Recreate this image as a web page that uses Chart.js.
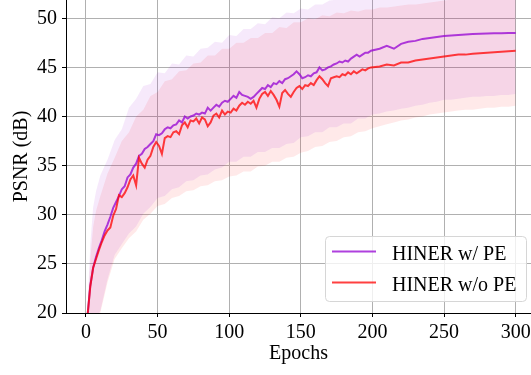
<!DOCTYPE html>
<html>
<head>
<meta charset="utf-8">
<script src="https://cdn.jsdelivr.net/npm/chart.js@4/dist/chart.umd.min.js"></script>
<style>
  html, body { margin: 0; padding: 0; background: #fff; }
  #psnrChart { display: block; }
</style>
</head>
<body>
<canvas id="psnrChart" width="531" height="375"></canvas>
<script>
// epochs for the two mean curves
const lineEpochs = [1, 3, 5, 7, 9, 11, 13, 15, 17, 19, 21, 23, 25, 27, 29, 31, 33, 35, 37, 39,
    41, 43, 45, 47, 49, 51, 53, 55, 57, 59, 61, 63, 65, 67, 69, 71, 73, 75, 77, 79,
    81, 83, 85, 87, 89, 91, 93, 95, 97, 99, 101, 103, 105, 107, 109, 111, 113, 115, 117, 119,
    121, 123, 125, 127, 129, 131, 133, 135, 137, 139, 141, 143, 145, 147, 149, 151, 153, 155, 157, 159,
    161, 163, 165, 167, 169, 171, 173, 175, 177, 179, 181, 183, 185, 187, 189, 191, 193, 195, 197, 199,
    205, 210, 215, 220, 225, 230, 235, 240, 245, 250, 255, 260, 265, 270, 275, 280, 285, 290, 295, 300];

const withPE = [19.6, 22.8, 24.6, 25.7, 26.6, 27.4, 28.3, 29.0, 29.8, 30.7, 31.3, 31.9, 32.6, 32.9, 33.8, 34.1, 34.8, 35.2, 36.0, 36.2,
    36.7, 36.9, 37.2, 37.5, 38.2, 38.1, 38.3, 38.7, 38.9, 38.8, 39.1, 39.2, 39.6, 39.4, 40.0, 39.8, 40.0, 40.1, 40.3, 40.2,
    40.4, 40.3, 40.9, 40.6, 40.9, 41.2, 41.0, 41.4, 41.6, 41.5, 41.8, 42.1, 41.9, 42.5, 42.2, 42.1, 42.0, 41.8, 42.0, 42.3,
    42.6, 42.9, 42.8, 43.2, 43.0, 43.4, 43.3, 43.6, 43.4, 43.8, 43.9, 44.1, 44.3, 44.6, 44.3, 43.9, 44.0, 44.2, 44.1, 44.4,
    44.5, 45.0, 44.7, 44.8, 45.0, 45.1, 45.3, 45.4, 45.6, 45.5, 45.7, 45.6, 45.9, 46.1, 46.3, 46.1, 46.3, 46.5, 46.5, 46.7,
    46.9, 47.2, 46.9, 47.4, 47.6, 47.7, 47.9, 48.0, 48.1, 48.2, 48.25, 48.3, 48.35, 48.4, 48.42, 48.45, 48.47, 48.48, 48.5, 48.5];

const withoutPE = [19.6, 22.7, 24.6, 25.5, 26.4, 27.2, 27.9, 28.4, 28.7, 29.9, 30.6, 32.0, 31.8, 32.2, 32.8, 33.6, 34.0, 33.0, 35.8, 35.2,
    34.8, 35.6, 36.0, 36.9, 37.4, 37.0, 36.2, 37.8, 38.0, 37.9, 38.4, 38.5, 38.2, 39.1, 39.4, 38.9, 39.6, 39.5, 39.8, 39.3,
    39.9, 39.7, 39.0, 39.4, 40.1, 40.3, 39.9, 40.6, 40.2, 40.5, 40.4, 40.8, 40.6, 41.1, 41.4, 41.2, 41.5, 41.3, 41.6, 40.9,
    41.8, 42.3, 42.5, 42.1, 42.6, 42.2, 41.7, 41.0, 42.4, 42.7, 42.3, 42.0, 42.5, 42.9, 43.1, 42.8, 43.2, 43.1, 43.4, 43.2,
    43.7, 44.1, 43.8, 43.4, 43.1, 43.9, 44.0, 44.1, 44.0, 44.3, 44.2, 44.5, 44.3, 44.6, 44.4, 44.6, 44.8, 44.7, 44.9, 45.0,
    45.1, 45.3, 45.2, 45.5, 45.5, 45.7, 45.8, 45.9, 46.0, 46.1, 46.2, 46.3, 46.3, 46.4, 46.45, 46.5, 46.55, 46.6, 46.65, 46.7];

// epochs for the shaded min/max bands
const bandEpochs = [1, 3, 5, 7, 10, 15, 20, 25, 30, 35, 40, 45, 50, 55, 60, 65, 70, 75, 80, 85,
    90, 95, 100, 105, 110, 115, 120, 125, 130, 135, 140, 145, 150, 155, 160, 165, 170, 175, 180, 185,
    190, 195, 200, 205, 210, 215, 220, 225, 230, 235, 240, 245, 250, 255, 260, 265, 270, 275, 280, 285,
    290, 295, 300];

const withPEUpper = [20.5, 27.0, 30.8, 32.4, 34.0, 35.6, 37.6, 38.7, 40.9, 41.8, 43.1, 43.3, 44.5, 44.4, 45.4, 45.3, 46.2, 46.1, 46.9, 47.0,
    47.6, 47.5, 48.3, 48.2, 48.9, 48.9, 49.5, 49.4, 50.1, 50.0, 50.6, 50.5, 51.0, 50.9, 51.4, 51.4, 51.8, 51.9, 52.1, 52.2,
    52.3, 52.4, 52.5, 52.6, 52.7, 52.8, 52.8, 52.9, 53.0, 53.0, 53.1, 53.2, 53.2, 53.3, 53.3, 53.4, 53.4, 53.5, 53.5, 53.6,
    53.6, 53.7, 53.7];
const withPELower = [19.0, 19.0, 19.2, 19.5, 20.2, 23.4, 25.9, 27.0, 28.1, 28.8, 30.1, 30.8, 31.7, 31.9, 32.6, 32.8, 33.4, 33.5, 34.0, 34.1,
    34.6, 34.8, 35.4, 35.4, 35.9, 35.9, 36.4, 36.4, 36.8, 36.8, 37.2, 37.3, 37.9, 38.0, 38.4, 38.4, 38.9, 38.9, 39.3, 39.3,
    39.8, 39.8, 40.2, 40.3, 40.5, 40.6, 40.8, 40.9, 41.1, 41.2, 41.4, 41.5, 41.7, 41.7, 41.8, 41.9, 42.0, 42.0, 42.1, 42.1,
    42.2, 42.2, 42.3];
const withoutPEUpper = [20.3, 25.5, 28.8, 30.4, 31.9, 34.2, 35.8, 37.5, 38.4, 40.0, 40.7, 42.1, 42.5, 43.6, 43.8, 44.6, 44.7, 45.4, 45.5, 46.2,
    46.2, 46.9, 46.9, 47.5, 47.5, 48.0, 48.0, 48.5, 48.5, 49.1, 49.0, 49.6, 49.6, 50.0, 49.9, 50.3, 50.2, 50.6, 50.5, 50.8,
    50.7, 50.9, 50.9, 51.1, 51.1, 51.2, 51.3, 51.4, 51.4, 51.5, 51.6, 51.7, 51.8, 51.9, 52.0, 52.0, 52.1, 52.2, 52.2, 52.3,
    52.3, 52.4, 52.4];
const withoutPELower = [19.0, 19.0, 19.1, 19.4, 20.0, 23.1, 25.5, 26.6, 27.6, 28.3, 29.5, 30.1, 30.9, 31.1, 31.7, 31.9, 32.4, 32.5, 32.9, 33.0,
    33.4, 33.5, 33.9, 34.0, 34.4, 34.4, 34.9, 35.0, 35.4, 35.4, 35.8, 35.9, 36.3, 36.5, 36.9, 37.0, 37.4, 37.5, 37.9, 38.0,
    38.4, 38.5, 38.8, 39.0, 39.2, 39.4, 39.6, 39.7, 39.9, 40.0, 40.2, 40.3, 40.4, 40.5, 40.6, 40.7, 40.7, 40.8, 40.9, 40.9,
    41.0, 41.0, 41.1];

const xTicks = [0, 50, 100, 150, 200, 250, 300];
const yTicks = [20, 25, 30, 35, 40, 45, 50];
const seriesLabels = ['HINER w/ PE', 'HINER w/o PE'];

const purple = 'rgba(148, 0, 211, 0.75)';
const red = 'rgba(255, 0, 0, 0.75)';
const serif = '"Liberation Serif", "Times New Roman", serif';

function toPoints(xs, ys) {
    return xs.map((x, i) => ({ x: x, y: ys[i] }));
}

function bandSet(ys, color, fill) {
    return {
        data: toPoints(bandEpochs, ys),
        borderWidth: 0,
        pointRadius: 0,
        backgroundColor: color,
        fill: fill
    };
}

// matplotlib-like legend box in the lower right
const boxLegend = {
    id: 'boxLegend',
    afterDraw(chart) {
        const ctx = chart.ctx;
        const x = 325.5, y = 236.5, w = 201, h = 65;
        ctx.save();
        ctx.beginPath();
        ctx.roundRect(x, y, w, h, 4);
        ctx.fillStyle = 'rgba(255, 255, 255, 0.8)';
        ctx.fill();
        ctx.strokeStyle = '#d6d6d6';
        ctx.lineWidth = 1;
        ctx.stroke();

        ctx.font = '20px ' + serif;
        ctx.textBaseline = 'alphabetic';
        ctx.fillStyle = '#000';
        [0, 1].forEach(i => {
            const ds = chart.data.datasets[1 - i];
            const ly = 251.5 + i * 31;
            ctx.beginPath();
            ctx.moveTo(332, ly);
            ctx.lineTo(376, ly);
            ctx.strokeStyle = ds.borderColor;
            ctx.lineWidth = 2;
            ctx.stroke();
            ctx.fillText(ds.label, 392, 259.5 + i * 31);
        });
        ctx.restore();
    }
};

const config = {
    type: 'line',
    data: {
        datasets: [
            { label: seriesLabels[1], data: toPoints(lineEpochs, withoutPE), borderColor: red, borderWidth: 2, pointRadius: 0, fill: false },
            { label: seriesLabels[0], data: toPoints(lineEpochs, withPE), borderColor: purple, borderWidth: 2, pointRadius: 0, fill: false },
            bandSet(withPEUpper, 'rgba(148, 0, 211, 0.085)', '+1'),
            bandSet(withPELower, 'rgba(148, 0, 211, 0.085)', false),
            bandSet(withoutPEUpper, 'rgba(255, 0, 0, 0.085)', '+1'),
            bandSet(withoutPELower, 'rgba(255, 0, 0, 0.085)', false)
        ]
    },
    options: {
        responsive: false,
        animation: false,
        devicePixelRatio: 1,
        layout: { padding: 0 },
        elements: { line: { tension: 0 } },
        plugins: {
            legend: { display: false },
            tooltip: { enabled: false }
        },
        scales: {
            x: {
                type: 'linear',
                min: -13.96,
                max: 310.7,
                afterBuildTicks: s => { s.ticks = xTicks.map(v => ({ value: v })); },
                afterFit: s => { s.height = 62; s.paddingLeft = 0; s.paddingRight = 0; },
                grid: { color: '#b0b0b0', lineWidth: 1, tickColor: '#000', tickLength: 4 },
                border: { display: true, color: '#000', width: 1 },
                ticks: { color: '#000', font: { family: serif, size: 20 }, padding: 4, maxRotation: 0, autoSkip: false },
                title: { display: true, text: 'Epochs', color: '#000', font: { family: serif, size: 20 }, padding: { top: 0, bottom: 9 } }
            },
            y: {
                min: 20,
                max: 51.86,
                afterBuildTicks: s => { s.ticks = yTicks.map(v => ({ value: v })); },
                afterFit: s => { s.width = 66; s.paddingTop = 0; s.paddingBottom = 0; },
                grid: { color: '#b0b0b0', lineWidth: 1, tickColor: '#000', tickLength: 4 },
                border: { display: true, color: '#000', width: 1 },
                ticks: { color: '#000', font: { family: serif, size: 20 }, padding: 5 },
                title: { display: true, text: 'PSNR (dB)', color: '#000', font: { family: serif, size: 20 }, padding: { top: 10, bottom: 0 } }
            }
        }
    },
    plugins: [boxLegend]
};

new Chart(document.getElementById('psnrChart'), config);
</script>
</body>
</html>
